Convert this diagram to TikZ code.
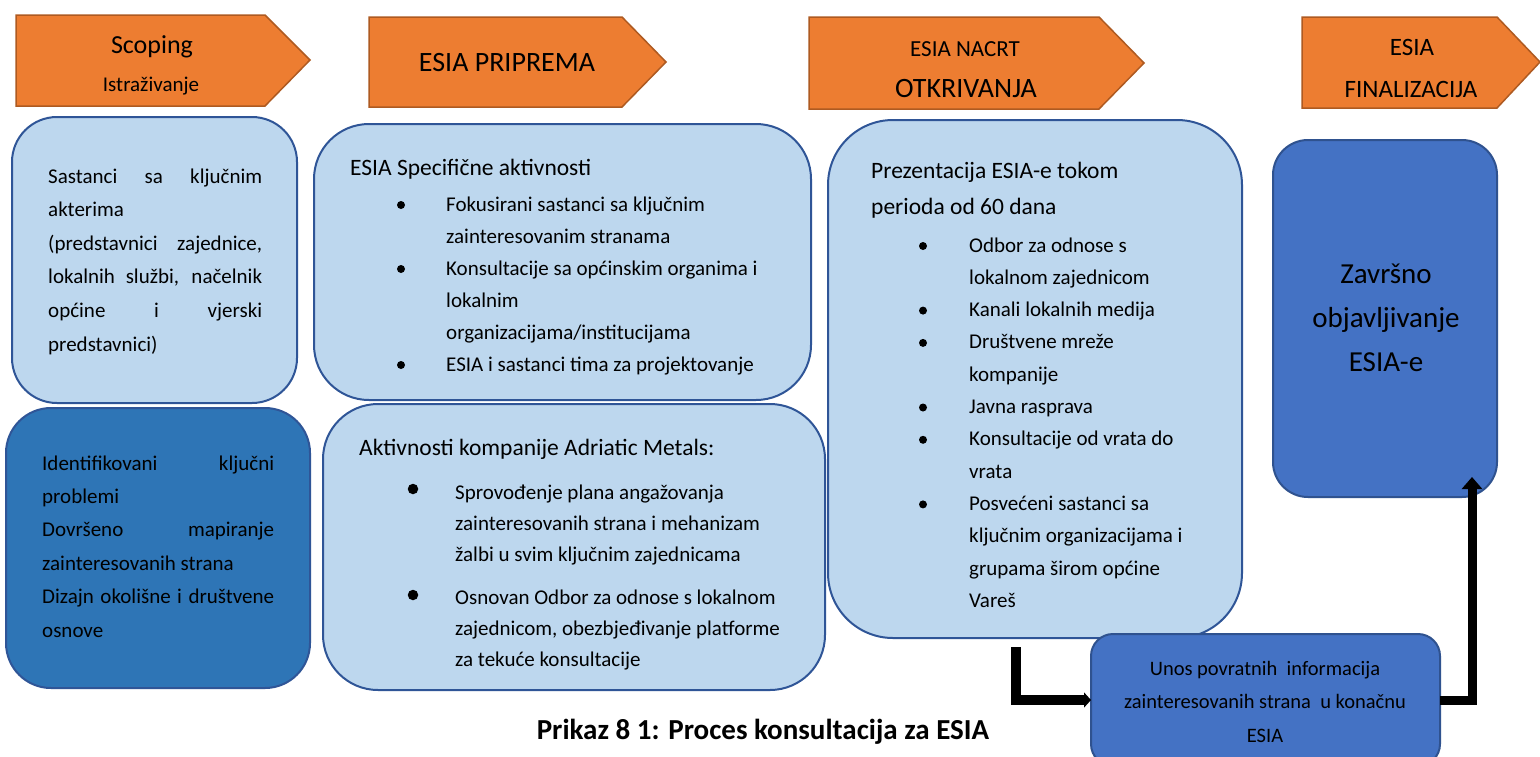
\documentclass[tikz,border=0pt]{standalone}
\usepackage{fontspec}
\setmainfont{Carlito}
\usetikzlibrary{arrows.meta}
\definecolor{orangeF}{HTML}{ED7D31}
\definecolor{orangeD}{HTML}{AE5A21}
\definecolor{lightF}{HTML}{BDD7EE}
\definecolor{boxD}{HTML}{2F5597}
\definecolor{midF}{HTML}{2E75B6}
\definecolor{blueF}{HTML}{4472C4}
\definecolor{blueD}{HTML}{2F528F}
\begin{document}
\begin{tikzpicture}[x=1pt,y=-1pt,
  phase/.style={fill=orangeF,draw=orangeD,line width=1.5pt,line join=miter},
  card/.style={line width=2pt,inner sep=0pt,outer sep=0pt},
  light/.style={card,draw=boxD,fill=lightF},
  mid/.style={card,draw=boxD,fill=midF},
  dark/.style={card,draw=blueD,fill=blueF},
  txt/.style={inner sep=0pt,font=\fontsize{21}{25}\selectfont},
  head/.style={inner sep=0pt,font=\fontsize{23.5}{28}\selectfont},
  dot/.style={circle,fill=black,inner sep=0pt,minimum size=8pt},
  bigdot/.style={circle,fill=black,inner sep=0pt,minimum size=10.5pt},
  conn/.style={line width=9pt,line join=miter,-{Triangle[width=20pt,length=12pt]}},
  connb/.style={line width=10pt,line join=miter,-{Triangle[width=15pt,length=7pt]}}]

\path[use as bounding box,fill=white] (0,0) rectangle (1540,756);

% phase arrows
\path[phase] (16,15) -- (265,15) -- (310,60) -- (265,106) -- (16,106) -- cycle;
\path[phase] (369,17) -- (622,17) -- (666,62) -- (622,107) -- (369,107) -- cycle;
\path[phase] (809,17) -- (1099,17) -- (1144,63) -- (1099,109) -- (809,109) -- cycle;
\path[phase] (1302,17) -- (1497,17) -- (1540,62) -- (1497,108) -- (1302,108) -- cycle;

\node[inner sep=0pt,font=\fontsize{26}{30}\selectfont,anchor=base] (p1a) at (152,53) {Scoping};
\node[inner sep=0pt,font=\fontsize{21}{25}\selectfont,anchor=base] (p1b) at (151,91) {Istraživanje};
\node[inner sep=0pt,font=\fontsize{28}{32}\selectfont,anchor=base] (p2) at (507,71) {ESIA PRIPREMA};
\node[inner sep=0pt,font=\fontsize{23}{27}\selectfont,anchor=base] (p3a) at (965,56) {ESIA NACRT};
\node[inner sep=0pt,font=\fontsize{28}{32}\selectfont,anchor=base] (p3b) at (966,97) {OTKRIVANJA};
\node[inner sep=0pt,font=\fontsize{25}{30}\selectfont,anchor=base] (p4a) at (1412,55) {ESIA};
\node[inner sep=0pt,font=\fontsize{25}{30}\selectfont,anchor=base] (p4b) at (1411,97) {FINALIZACIJA};

% boxes
\node[light,rounded corners=45pt,minimum width=285pt,minimum height=286pt] (A) at (154.5,260) {};
\node[mid,rounded corners=45pt,minimum width=304pt,minimum height=280pt] (B) at (158,548) {};
\node[light,rounded corners=55pt,minimum width=497pt,minimum height=276pt] (C) at (562.5,262) {};
\node[light,rounded corners=55pt,minimum width=502pt,minimum height=286pt] (D) at (574,547) {};
\node[light,rounded corners=65pt,minimum width=414pt,minimum height=518pt] (E) at (1035,379) {};
\node[dark,rounded corners=22pt,minimum width=349pt,minimum height=132pt] (F) at (1265.5,700) {};
\node[dark,rounded corners=35pt,minimum width=224pt,minimum height=357pt] (G) at (1385,318.5) {};

% box A text
\foreach \s [count=\i from 0] in {{\makebox[214pt][s]{Sastanci sa ključnim}},{akterima},{\makebox[214pt][s]{(predstavnici zajednice,}},{\makebox[214pt][s]{lokalnih službi, načelnik}},{\makebox[214pt][s]{općine i vjerski}},{predstavnici)}}
  \node[txt,anchor=base west] (a\i) at (48,183+33.6*\i) {\s};

% box B text
\foreach \s [count=\i from 0] in {{\makebox[232pt][s]{Identifikovani ključni}},{problemi},{\makebox[232pt][s]{Dovršeno mapiranje}},{zainteresovanih strana},{\makebox[232pt][s]{Dizajn okolišne i društvene}},{osnove}}
  \node[txt,anchor=base west] (b\i) at (42,470+33.4*\i) {\s};

% box C text
\node[head,anchor=base west] (ch) at (350,175) {ESIA Specifične aktivnosti};
\foreach \s [count=\i from 0] in {{Fokusirani sastanci sa ključnim},{zainteresovanim stranama},{Konsultacije sa općinskim organima i},{lokalnim},{organizacijama/institucijama},{ESIA i sastanci tima za projektovanje}}
  \node[txt,anchor=base west] (c\i) at (446,211+32*\i) {\s};
\foreach \i in {0,2,5}
  \node[dot] (cd\i) at (401,205+32*\i) {};

% box D text
\node[head,anchor=base west] (dh) at (359,455) {Aktivnosti kompanije Adriatic Metals:};
\foreach \s [count=\i from 0] in {{Sprovođenje plana angažovanja},{zainteresovanih strana i mehanizam},{žalbi u svim ključnim zajednicama}}
  \node[txt,anchor=base west] (d\i) at (455,499+31.3*\i) {\s};
\foreach \s [count=\i from 0] in {{Osnovan Odbor za odnose s lokalnom},{zajednicom, obezbjeđivanje platforme},{za tekuće konsultacije}}
  \node[txt,anchor=base west] (e\i) at (455,604+31.3*\i) {\s};
\node[bigdot] (dd1) at (413,489) {};
\node[bigdot] (dd2) at (413,595) {};

% box E text
\node[head,anchor=base west] (eh1) at (871,178) {Prezentacija ESIA-e tokom};
\node[head,anchor=base west] (eh2) at (871,214) {perioda od 60 dana};
\foreach \s [count=\i from 0] in {{Odbor za odnose s},{lokalnom zajednicom},{Kanali lokalnih medija},{Društvene mreže},{kompanije},{Javna rasprava},{Konsultacije od vrata do},{vrata},{Posvećeni sastanci sa},{ključnim organizacijama i},{grupama širom općine},{Vareš}}
  \node[txt,anchor=base west] (f\i) at (969,252+32.3*\i) {\s};
\foreach \i in {0,2,3,5,6,8}
  \node[dot] (fd\i) at (923,246+32.3*\i) {};

% box F text
\foreach \s [count=\i from 0] in {{Unos povratnih\ \ informacija},{zainteresovanih strana\ \ u konačnu},{ESIA}}
  \node[inner sep=0pt,font=\fontsize{20.5}{25}\selectfont,anchor=base] (g\i) at (1265,675+33.5*\i) {\s};

% box G text
\foreach \s [count=\i from 0] in {{Završno},{objavljivanje},{ESIA-e}}
  \node[inner sep=0pt,font=\fontsize{29}{34}\selectfont,anchor=base] (h\i) at (1386,283+44*\i) {\s};

% connectors
\coordinate (e1) at (1016,647);
\draw[connb] (e1) |- (F.west);
\coordinate (g1) at (1472,477);
\draw[conn] (F.east) -| (g1);

% caption
\node[inner sep=0pt,font=\bfseries\fontsize{29}{34}\selectfont,anchor=base] (cap) at (763,739) {Prikaz 8 1: Proces konsultacija za ESIA};
\end{tikzpicture}
\end{document}
